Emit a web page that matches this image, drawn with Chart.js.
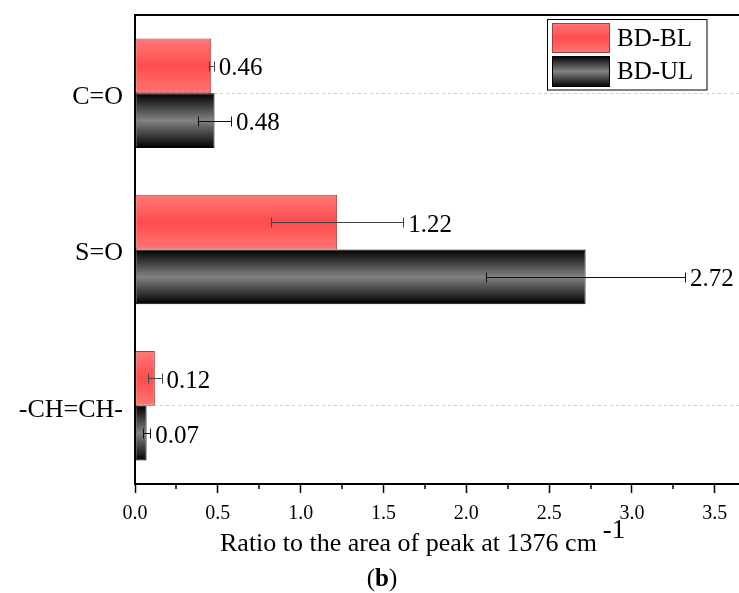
<!DOCTYPE html>
<html>
<head>
<meta charset="utf-8">
<script src="https://cdn.jsdelivr.net/npm/chart.js@4/dist/chart.umd.min.js"></script>
<style>
  html, body { margin: 0; padding: 0; background: #fff; }
  #wrap { width: 739px; height: 593px; position: relative; }
</style>
</head>
<body>
<div id="wrap"><canvas id="c"></canvas></div>
<script>
// ---- data ----
const categories = ['C=O', 'S=O', '-CH=CH-'];
const seriesNames = ['BD-BL', 'BD-UL'];
const bdblValues = [0.46, 1.22, 0.12];
const bdulValues = [0.48, 2.72, 0.07];
const bdblErrors = [0.015, 0.40, 0.04];
const bdulErrors = [0.10, 0.60, 0.022];
const xTickValues = [0, 0.5, 1.0, 1.5, 2.0, 2.5, 3.0, 3.5];
const xTickLabels = ['0.0', '0.5', '1.0', '1.5', '2.0', '2.5', '3.0', '3.5'];
const xMinorTickValues = [0.25, 0.75, 1.25, 1.75, 2.25, 2.75, 3.25];
const xAxisMax = 3.646;
const xTitle = 'Ratio to the area of peak at 1376 cm';
const xTitleSup = '-1';
const panelLabel = 'b';

const FONT = '"Liberation Serif", "Times New Roman", serif';
const CAT_PCT = 0.7;

function gradFor(chart, y0, h, kind) {
  const g = chart.ctx.createLinearGradient(0, y0, 0, y0 + h);
  if (kind === 0) {
    g.addColorStop(0, '#ff7878');
    g.addColorStop(0.5, '#ff4c4c');
    g.addColorStop(1, '#ff7575');
  } else {
    g.addColorStop(0, '#000000');
    g.addColorStop(0.5, '#828282');
    g.addColorStop(1, '#000000');
  }
  return g;
}

function barBg(ctx) {
  const fallback = ctx.datasetIndex === 0 ? '#ff5a5a' : '#555555';
  if (ctx.type !== 'data') return fallback;
  const chart = ctx.chart;
  const ys = chart.scales && chart.scales.y;
  if (!ys || !chart.chartArea) return fallback;
  const band = (ys.bottom - ys.top) / categories.length;
  const c = ys.getPixelForValue(ctx.dataIndex);
  const t = band * CAT_PCT / 2;
  const y0 = ctx.datasetIndex === 0 ? c - t : c;
  return gradFor(chart, y0, t, ctx.datasetIndex);
}

const errors = [bdblErrors, bdulErrors];
const values = [bdblValues, bdulValues];

const extras = {
  id: 'extras',
  afterDatasetsDraw(chart) {
    const ctx = chart.ctx;
    const xs = chart.scales.x;
    ctx.save();
    chart.data.datasets.forEach((ds, di) => {
      const meta = chart.getDatasetMeta(di);
      meta.data.forEach((el, i) => {
        const v = values[di][i], e = errors[di][i];
        const xl = xs.getPixelForValue(v - e);
        const xr = xs.getPixelForValue(v + e);
        const y = Math.round(el.y) + 0.5;
        ctx.strokeStyle = di === 0 ? '#444' : '#111';
        ctx.lineWidth = 1;
        ctx.beginPath();
        ctx.moveTo(xl, y); ctx.lineTo(xr, y);
        ctx.moveTo(Math.round(xl) + 0.5, y - 5); ctx.lineTo(Math.round(xl) + 0.5, y + 5);
        ctx.moveTo(Math.round(xr) + 0.5, y - 5); ctx.lineTo(Math.round(xr) + 0.5, y + 5);
        ctx.stroke();
        ctx.fillStyle = '#000';
        ctx.font = '25px ' + FONT;
        ctx.textAlign = 'left';
        ctx.textBaseline = 'middle';
        ctx.fillText(v.toFixed(2), xr + 5, el.y + 3);
      });
    });
    ctx.restore();
  },
  afterDraw(chart) {
    const ctx = chart.ctx;
    const xs = chart.scales.x;
    const area = chart.chartArea;
    ctx.save();
    // top frame line
    ctx.strokeStyle = '#000';
    ctx.lineWidth = 2;
    ctx.beginPath();
    ctx.moveTo(area.left - 1, area.top);
    ctx.lineTo(area.right, area.top);
    ctx.stroke();
    // minor ticks
    ctx.lineWidth = 1.5;
    ctx.beginPath();
    xMinorTickValues.forEach(v => {
      const x = Math.round(xs.getPixelForValue(v));
      ctx.moveTo(x, area.bottom);
      ctx.lineTo(x, area.bottom + 5);
    });
    ctx.stroke();
    // x title
    ctx.fillStyle = '#000';
    ctx.textAlign = 'left';
    ctx.textBaseline = 'alphabetic';
    ctx.font = '26px ' + FONT;
    const tx = 220;
    ctx.fillText(xTitle, tx, 551);
    const w = ctx.measureText(xTitle).width;
    ctx.font = '27px ' + FONT;
    ctx.fillText(xTitleSup, tx + w + 6, 538);
    // panel label (b)
    ctx.font = '25px ' + FONT;
    const wl = ctx.measureText('(').width;
    const wr = ctx.measureText(')').width;
    ctx.font = 'bold 25px ' + FONT;
    const wb = ctx.measureText(panelLabel).width;
    const total = wl + wb + wr;
    const px = 382 - total / 2;
    ctx.font = '25px ' + FONT;
    ctx.fillText('(', px, 586);
    ctx.font = 'bold 25px ' + FONT;
    ctx.fillText(panelLabel, px + wl, 586);
    ctx.font = '25px ' + FONT;
    ctx.fillText(')', px + wl + wb, 586);
    // legend
    ctx.lineWidth = 1;
    ctx.strokeStyle = '#000';
    ctx.fillStyle = '#fff';
    ctx.fillRect(547.5, 19.5, 159.5, 70.5);
    ctx.strokeRect(547.5, 19.5, 159.5, 70.5);
    const sw = [{y: 23, h: 30}, {y: 56, h: 31}];
    sw.forEach((s, i) => {
      ctx.fillStyle = gradFor(chart, s.y, s.h, i);
      ctx.fillRect(552, s.y, 58, s.h);
      ctx.strokeStyle = i === 0 ? '#a04040' : '#000';
      ctx.strokeRect(552.5, s.y + 0.5, 57, s.h - 1);
      ctx.fillStyle = '#000';
      ctx.font = '25px ' + FONT;
      ctx.textBaseline = 'middle';
      ctx.fillText(seriesNames[i], 617, s.y + s.h / 2 + 1);
    });
    ctx.restore();
  }
};

new Chart(document.getElementById('c'), {
  type: 'bar',
  data: {
    labels: categories,
    datasets: [
      { label: seriesNames[0], data: bdblValues, backgroundColor: barBg,
        borderColor: '#a84444', borderWidth: 1, borderSkipped: false },
      { label: seriesNames[1], data: bdulValues, backgroundColor: barBg,
        borderColor: '#000', borderWidth: 1, borderSkipped: false }
    ]
  },
  options: {
    indexAxis: 'y',
    responsive: true,
    maintainAspectRatio: false,
    animation: false,
    events: [],
    categoryPercentage: CAT_PCT,
    barPercentage: 1.0,
    layout: { padding: { top: 15, right: 0, left: 0, bottom: 0 } },
    plugins: { legend: { display: false }, tooltip: { enabled: false } },
    scales: {
      x: {
        type: 'linear',
        min: 0,
        max: xAxisMax,
        afterBuildTicks(scale) { scale.ticks = xTickValues.map(v => ({ value: v })); },
        afterFit(scale) { scale.height = 109; scale.paddingLeft = 0; scale.paddingRight = 0; },
        ticks: {
          autoSkip: false,
          maxRotation: 0,
          padding: 9,
          color: '#000',
          font: { family: FONT, size: 20 },
          callback(value) {
            const i = xTickValues.findIndex(t => Math.abs(t - value) < 1e-9);
            return i >= 0 ? xTickLabels[i] : '';
          }
        },
        grid: { drawOnChartArea: false, drawTicks: true, tickLength: 9, tickColor: '#000', tickWidth: 1.5 },
        border: { display: true, color: '#000', width: 2 }
      },
      y: {
        type: 'category',
        offset: true,
        afterFit(scale) { scale.width = 135; scale.paddingTop = 0; scale.paddingBottom = 0; },
        ticks: { color: '#000', padding: 12, labelOffset: 4, font: { family: FONT, size: 26 } },
        grid: {
          offset: false,
          drawTicks: false,
          color: (c) => (c.index === 1 ? 'rgba(0,0,0,0)' : '#cfcfcf'),
          lineWidth: 1
        },
        border: { display: true, color: '#000', width: 2, dash: [3, 3] }
      }
    }
  },
  plugins: [extras]
});
</script>
</body>
</html>
